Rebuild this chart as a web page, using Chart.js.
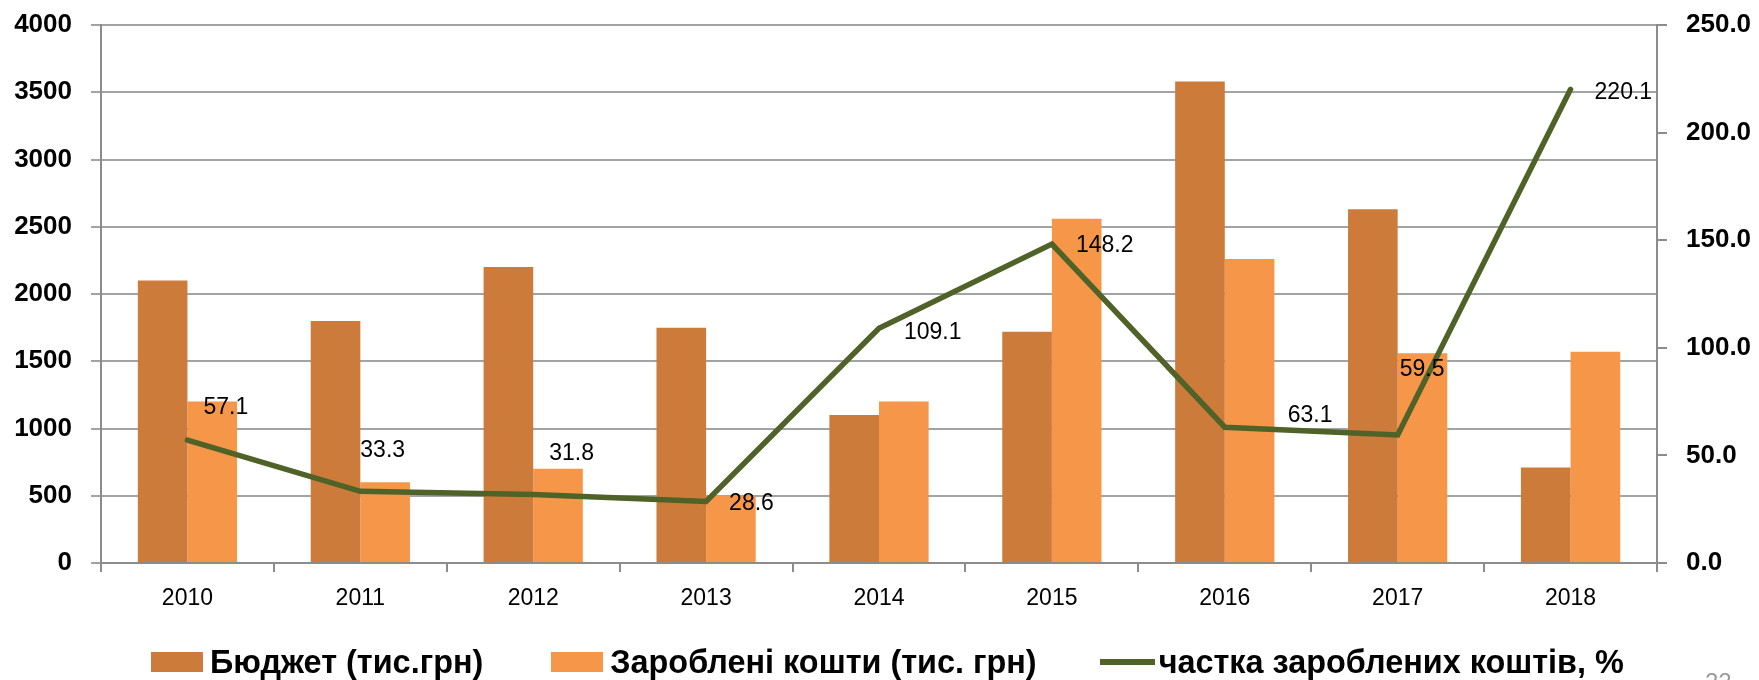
<!DOCTYPE html>
<html><head><meta charset="utf-8">
<script src="https://cdn.jsdelivr.net/npm/chart.js@4.4.1/dist/chart.umd.min.js"></script>
<style>
html,body{margin:0;padding:0;background:#fff;}
#wrap{position:relative;width:1759px;height:680px;overflow:hidden;background:#fff;}
#c{position:absolute;left:0;top:0;}
#legend{position:absolute;left:151px;top:643px;height:38px;display:flex;align-items:center;font:bold 32.4px 'Liberation Sans',sans-serif;color:#000;white-space:nowrap;}
.item{display:flex;align-items:center;}
.sw{width:52px;height:20px;margin-right:7px;}
.ln{width:55px;height:6px;margin-right:4px;}
#page{position:absolute;left:1705px;top:670px;font:24px/24px 'Liberation Sans',sans-serif;color:#9a9a9a;}
</style></head>
<body><div id="wrap"><canvas id="c" width="1759" height="680"></canvas><div id="legend"></div><div id="page">22</div></div>
<script>
const categories = ['2010','2011','2012','2013','2014','2015','2016','2017','2018'];
const budget = [2100, 1800, 2200, 1750, 1100, 1720, 3580, 2630, 710];
const earned = [1200, 600, 700, 500, 1200, 2560, 2260, 1560, 1570];
const share = [57.1, 33.3, 31.8, 28.6, 109.1, 148.2, 63.1, 59.5, 220.1];
const seriesNames = ['Бюджет (тис.грн)', 'Зароблені кошти (тис. грн)', 'частка зароблених коштів, %'];
const leftAxisMax = 4000, leftAxisStep = 500;
const rightAxisMax = 250, rightAxisStep = 50;

// label placement (style): offset of each data label from its point, px
const labelOffsets = [[16,-32],[0,-41],[16,-41],[23,2],[25,4],[24,2],[63,-12],[2,-65],[24,3]];
// legend spacing (style): gap after each legend item, px
const legendGaps = [68, 63, 0];

const colors = {budget:'#CD7B3A', earned:'#F69648', share:'#4F6228', grid:'#A3A3A3', axis:'#8C8C8C'};
const FONT = "'Liberation Sans', sans-serif";

const lineLabels = {
  id:'lineLabels',
  afterDatasetsDraw(chart){
    const meta = chart.getDatasetMeta(2);
    const ctx = chart.ctx;
    ctx.save();
    ctx.font = "23px " + FONT;
    ctx.fillStyle = '#000';
    ctx.textAlign = 'left';
    ctx.textBaseline = 'middle';
    meta.data.forEach((pt,i)=>{
      const o = labelOffsets[i];
      ctx.fillText(share[i].toFixed(1), pt.x + o[0], pt.y + o[1]);
    });
    ctx.restore();
  }
};

const chart = new Chart(document.getElementById('c'), {
  data:{
    labels: categories,
    datasets:[
      {type:'bar', label:seriesNames[0], data:budget, backgroundColor:colors.budget, yAxisID:'y', order:2, categoryPercentage:0.574, barPercentage:1.0},
      {type:'bar', label:seriesNames[1], data:earned, backgroundColor:colors.earned, yAxisID:'y', order:2, categoryPercentage:0.574, barPercentage:1.0},
      {type:'line', label:seriesNames[2], data:share, borderColor:colors.share, backgroundColor:colors.share, borderWidth:5.5, pointRadius:0, tension:0, yAxisID:'y1', order:0, borderCapStyle:'round', borderJoinStyle:'miter'}
    ]
  },
  options:{
    responsive:false, animation:false, devicePixelRatio:1,
    layout:{padding:{top:25,left:0,right:0,bottom:0}},
    plugins:{legend:{display:false}, tooltip:{enabled:false}},
    scales:{
      x:{
        grid:{display:true, drawOnChartArea:false, drawTicks:true, tickLength:9, color:colors.axis, lineWidth:2, offset:true},
        border:{display:true, color:colors.axis, width:2},
        ticks:{font:{family:FONT, size:23}, color:'#000', padding:13, maxRotation:0},
        afterFit(s){ s.height = 117; }
      },
      y:{
        position:'left', min:0, max:leftAxisMax,
        ticks:{stepSize:leftAxisStep, font:{family:FONT, size:26, weight:'bold'}, color:'#000', padding:19, callback:v=>String(v)},
        grid:{color:colors.grid, lineWidth:2, tickLength:10, drawTicks:true},
        border:{display:true, color:colors.axis, width:2},
        afterFit(s){ s.width = 101; s.paddingTop = 0; s.paddingBottom = 0; }
      },
      y1:{
        position:'right', min:0, max:rightAxisMax,
        ticks:{stepSize:rightAxisStep, font:{family:FONT, size:26, weight:'bold'}, color:'#000', padding:19, callback:v=>Number(v).toFixed(1)},
        grid:{drawOnChartArea:false, color:colors.axis, lineWidth:2, tickLength:10, drawTicks:true},
        border:{display:true, color:colors.axis, width:2},
        afterFit(s){ s.width = 102; s.paddingTop = 0; s.paddingBottom = 0; }
      }
    }
  },
  plugins:[lineLabels]
});

// legend built from the chart's datasets
const lg = document.getElementById('legend');
chart.data.datasets.forEach((ds,i)=>{
  const it = document.createElement('div'); it.className='item';
  it.style.marginRight = legendGaps[i] + 'px';
  const sw = document.createElement('div');
  sw.className = ds.type==='line' ? 'ln' : 'sw';
  sw.style.background = ds.type==='line' ? ds.borderColor : ds.backgroundColor;
  const tx = document.createElement('span'); tx.textContent = ds.label;
  it.appendChild(sw); it.appendChild(tx); lg.appendChild(it);
});
</script>
</body></html>
